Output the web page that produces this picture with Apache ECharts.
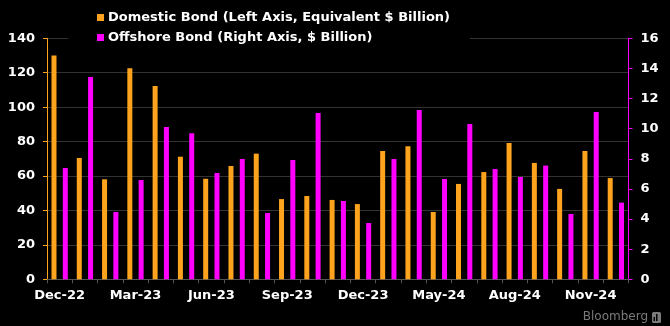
<!DOCTYPE html>
<html>
<head>
<meta charset="utf-8">
<script src="https://cdn.jsdelivr.net/npm/echarts@6/dist/echarts.min.js"></script>
<style>html,body{margin:0;padding:0;background:#000;}#c{width:670px;height:326px;}</style>
</head>
<body>
<div id="c"></div>
<script>
const categories = ["Dec-22","Jan-23","Feb-23","Mar-23","Apr-23","May-23","Jun-23","Jul-23","Aug-23","Sep-23","Oct-23","Nov-23","Dec-23","Mar-24","Apr-24","May-24","Jun-24","Jul-24","Aug-24","Sep-24","Oct-24","Nov-24","Dec-24"];
const domestic = [130, 70.5, 58.1, 122.6, 112.3, 71.2, 58.4, 65.8, 73.0, 46.6, 48.4, 46.1, 43.7, 74.5, 77.3, 39.1, 55.4, 62.3, 79.2, 67.6, 52.5, 74.5, 58.8];
const offshore = [7.39, 13.43, 4.47, 6.59, 10.11, 9.69, 7.06, 7.99, 4.40, 7.92, 11.04, 5.2, 3.74, 7.99, 11.24, 6.66, 10.31, 7.32, 6.79, 7.55, 4.34, 11.11, 5.09];
const leftTicks = {min: 0, max: 140, interval: 20};
const rightTicks = {min: 0, max: 16, interval: 2};
const seriesNames = ["Domestic Bond (Left Axis, Equivalent $ Billion)", "Offshore Bond (Right Axis, $ Billion)"];

const ORANGE = '#FDA31E', MAGENTA = '#FF00FF';
const FONT = 'DejaVu Sans';
const chart = echarts.init(document.getElementById('c'), null, {renderer: 'canvas'});
chart.setOption({
  backgroundColor: '#000',
  animation: false,
  grid: {left: 47, right: 41.5, top: 38.3, bottom: 46.7, containLabel: false},
  legend: {
    orient: 'vertical', left: 68, top: 0,
    padding: [11, 20, 4, 29],
    itemWidth: 7, itemHeight: 7, itemGap: 7,
    icon: 'rect', selectedMode: false,
    textStyle: {color: '#fff', fontFamily: FONT, fontWeight: 'bold', fontSize: 13, padding: [0,0,0,-1]},
    data: seriesNames
  },
  xAxis: {
    type: 'category', data: categories, boundaryGap: true,
    axisLine: {show: true, lineStyle: {color: '#555', width: 1}},
    axisTick: {show: true, interval: 0, length: 4, lineStyle: {color: '#555'}},
    axisLabel: {interval: 2, color: '#fff', fontFamily: FONT, fontWeight: 'bold', fontSize: 13, margin: 10},
    splitLine: {show: false}
  },
  yAxis: [
    {type: 'value', position: 'left', min: leftTicks.min, max: leftTicks.max, interval: leftTicks.interval,
     axisLine: {show: true, lineStyle: {color: ORANGE, width: 1}},
     axisTick: {show: true, length: 4, lineStyle: {color: ORANGE}},
     axisLabel: {color: '#fff', fontFamily: FONT, fontWeight: 'bold', fontSize: 13, margin: 12},
     splitLine: {show: true, lineStyle: {color: '#333', width: 1}}},
    {type: 'value', position: 'right', min: rightTicks.min, max: rightTicks.max, interval: rightTicks.interval,
     axisLine: {show: true, lineStyle: {color: MAGENTA, width: 1}},
     axisTick: {show: true, length: 4, lineStyle: {color: MAGENTA}},
     axisLabel: {color: '#fff', fontFamily: FONT, fontWeight: 'bold', fontSize: 13, margin: 12},
     splitLine: {show: false}}
  ],
  series: [
    {name: seriesNames[0], type: 'bar', yAxisIndex: 0, data: domestic, barWidth: 5, barGap: '126%',
     itemStyle: {color: ORANGE}},
    {name: seriesNames[1], type: 'bar', yAxisIndex: 1, data: offshore, barWidth: 5, barGap: '126%',
     itemStyle: {color: MAGENTA}}
  ],
  graphic: [
    {type: 'rect', x: 68, y: 30, z: 3, shape: {x: 0, y: 0, width: 402, height: 16}, style: {fill: '#000'}, silent: true},
    {type: 'text', right: 22, bottom: 3, style: {text: 'Bloomberg', fill: '#7a7a7a', font: '12px "DejaVu Sans"'}},
    {type: 'rect', right: 9, bottom: 3, shape: {width: 9, height: 11, r: 1.5}, style: {fill: '#7a7a7a'}},
    {type: 'rect', right: 15, bottom: 5, shape: {width: 1.5, height: 4}, style: {fill: '#000'}},
    {type: 'rect', right: 12.5, bottom: 5, shape: {width: 1.5, height: 7}, style: {fill: '#000'}}
  ]
});
</script>
</body>
</html>
